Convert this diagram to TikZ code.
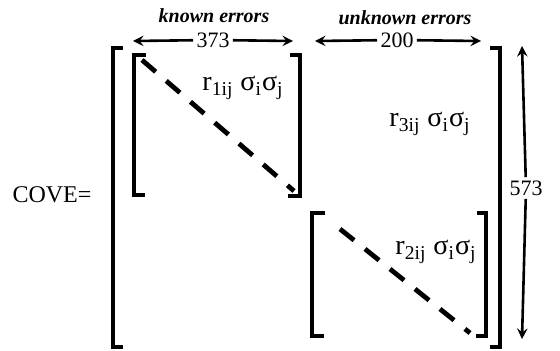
\documentclass[tikz,border=0pt]{standalone}
\usepackage{fontspec}
\setmainfont{Liberation Serif}
\usetikzlibrary{positioning}
\begin{document}
\begin{tikzpicture}[>=stealth, x=0.5pt, y=-0.5pt,
    brk/.style={line width=2pt},
    diag/.style={line width=2.4pt, dash pattern=on 9pt off 7pt},
    dim/.style={->, line width=1.3pt},
    lbl/.style={font=\fontsize{10}{12}\selectfont\itshape\bfseries, inner sep=1pt},
    num/.style={font=\fontsize{11}{13}\selectfont, inner sep=1.5pt},
    entry/.style={font=\fontsize{14}{16}\selectfont, inner sep=1pt}]

    \useasboundingbox (0,0) rectangle (560,350);

    % Kopfzeile
    \node[lbl] (known) at (214,16) {known errors};
    \node[lbl] (unknown) at (405,18) {unknown errors};

    % Bemassung oben
    \node[num] (n373) at (213,40) {373};
    \coordinate (k1) at (133,41);
    \coordinate (k2) at (293,41);
    \draw[dim] (n373) -- (k1);
    \draw[dim] (n373) -- (k2);

    \node[num] (n200) at (397,40) {200};
    \coordinate (u1) at (315,41);
    \coordinate (u2) at (481,41);
    \draw[dim] (n200) -- (u1);
    \draw[dim] (n200) -- (u2);

    % Bemassung rechts
    \node[num] (n573) at (526,188) {573};
    \coordinate (v1) at (522,46);
    \coordinate (v2) at (522,339);
    \draw[dim] (n573) -- (v1);
    \draw[dim] (n573) -- (v2);

    % Matrix
    \node[font=\fontsize{12}{14}\selectfont] (cove) at (52,195) {COVE=};
    \draw[brk] (123,48) -- (113,48) -- (113,347) -- (123,347);
    \draw[brk] (490,48) -- (500,48) -- (500,347) -- (490,347);

    % Block 1
    \draw[brk] (146,55) -- (134,55) -- (134,195) -- (145,195);
    \draw[brk] (290,55) -- (300,55) -- (300,196) -- (288,196);
    \draw[diag] (142,60) -- (294,191);
    \node[entry] (b1) at (243,88) {r\textsubscript{1ij} σ\textsubscript{i}σ\textsubscript{j}};

    % Block 3
    \node[entry] (b3) at (430,124) {r\textsubscript{3ij} σ\textsubscript{i}σ\textsubscript{j}};

    % Block 2
    \draw[brk] (325,213) -- (312,213) -- (312,336) -- (324,336);
    \draw[brk] (477,213) -- (486,213) -- (486,336) -- (476,336);
    \draw[diag] (340,229) -- (470,333);
    \node[entry] (b2) at (436,252) {r\textsubscript{2ij} σ\textsubscript{i}σ\textsubscript{j}};

\end{tikzpicture}
\end{document}
